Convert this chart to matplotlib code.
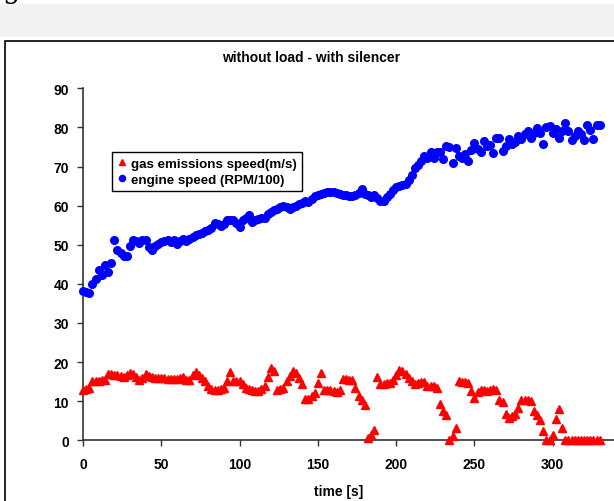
import matplotlib
matplotlib.use("Agg")
import matplotlib.pyplot as plt
import numpy as np
from matplotlib.patches import Rectangle

plt.rcParams['font.family'] = ['Liberation Sans', 'DejaVu Sans']

# sampling grid, one reading every 2 s
time_s = np.arange(0, 332, 2)

# engine speed (RPM/100)
engine_speed = [
    38.3, 38.0, 37.6, 40.0, 41.3, 43.6, 42.3, 44.8, 43.1, 45.3,
    51.3, 48.7, 47.8, 47.2, 47.2, 49.6, 51.1, 50.9, 50.5, 51.1,
    51.1, 49.5, 48.6, 49.8, 50.2, 50.7, 50.9, 51.1, 50.8, 51.1,
    50.3, 51.0, 51.5, 50.9, 51.4, 52.0, 52.4, 52.8, 53.1, 53.4,
    53.7, 54.3, 55.6, 55.2, 54.9, 55.4, 56.4, 56.3, 56.2, 55.5,
    54.5, 56.2, 56.8, 57.5, 55.8, 56.2, 56.6, 56.8, 56.9, 57.8,
    58.3, 58.8, 59.2, 59.6, 60.0, 59.6, 59.2, 59.6, 60.0, 60.5,
    60.8, 61.3, 61.0, 61.8, 62.4, 62.8, 63.0, 63.3, 63.5, 63.6,
    63.5, 63.2, 63.0, 62.8, 62.6, 62.5, 62.4, 62.6, 63.2, 64.3,
    63.0, 62.6, 62.2, 62.6, 62.0, 61.3, 61.3, 62.2, 63.0, 64.0,
    64.8, 65.1, 65.3, 65.6, 66.5, 67.9, 69.5, 70.3, 71.5, 72.8,
    72.1, 73.8, 72.1, 73.8, 73.6, 72.0, 75.2, 74.9, 70.9, 74.7,
    72.6, 72.2, 73.2, 71.5, 74.1, 76.0, 74.6, 73.7, 76.4, 75.2,
    75.5, 73.4, 77.3, 77.2, 74.0, 75.2, 77.1, 75.8, 76.2, 77.7,
    77.1, 78.2, 79.0, 77.3, 78.5, 79.9, 78.6, 75.8, 80.0, 80.3,
    78.6, 79.5, 77.3, 79.2, 81.1, 79.2, 76.9, 77.9, 79.2, 78.4,
    76.9, 80.5, 79.4, 77.1, 80.7, 80.5,
]

# gas emissions speed (m/s)
gas_speed = [
    12.9, 13.0, 13.5, 15.1, 15.2, 15.2, 15.4, 15.5, 16.9, 16.9,
    16.8, 16.8, 16.5, 16.3, 16.8, 17.2, 17.0, 16.3, 15.5, 16.0,
    16.9, 16.5, 16.1, 16.0, 16.0, 15.9, 15.9, 15.8, 15.7, 15.7,
    15.8, 16.0, 16.1, 15.5, 15.5, 16.8, 17.4, 16.8, 16.0, 15.1,
    13.8, 13.2, 12.8, 12.8, 13.0, 13.5, 15.1, 17.4, 15.2, 15.2,
    15.1, 14.3, 13.4, 13.0, 12.9, 12.7, 12.5, 13.0, 13.8, 16.3,
    18.6, 17.7, 12.9, 13.2, 13.4, 15.1, 16.5, 17.6, 17.2, 15.9,
    14.4, 10.6, 10.6, 11.2, 12.1, 14.6, 17.2, 12.9, 12.9, 12.9,
    12.5, 12.3, 12.9, 15.7, 15.6, 15.5, 15.5, 13.5, 11.2, 10.4,
    8.9, 0.6, 1.3, 2.6, 16.1, 14.4, 14.5, 14.6, 14.6, 15.5,
    16.8, 18.0, 17.6, 17.0, 15.9, 15.2, 14.4, 14.6, 14.9, 14.9,
    14.0, 14.0, 14.0, 13.5, 9.3, 7.4, 6.4, 0.2, 1.0, 3.1,
    15.2, 15.0, 14.8, 14.6, 12.7, 10.8, 12.3, 12.9, 12.8, 12.5,
    12.8, 13.1, 12.8, 10.4, 9.8, 6.7, 5.7, 6.2, 6.7, 8.2,
    10.4, 10.4, 10.4, 10.0, 7.4, 6.4, 5.3, 2.3, 0.2, 0.2,
    1.4, 5.5, 8.1, 3.1, 0.2, 0.0, 0.0, 0.0, 0.0, 0.0,
    0.0, 0.0, 0.0, 0.0, 0.0, 0.0,
]

W, H = 614, 502
fig = plt.figure(figsize=(W / 100, H / 100), dpi=100)

# page background: grey band and the chart frame
fig.patches.append(Rectangle((0, 1 - 38 / H), 1, 33 / H, transform=fig.transFigure,
                             facecolor='#f3f3f3', edgecolor='none', zorder=-10))
fig.patches.append(Rectangle((5 / W, -0.1), 1.2, 1 - 42 / H + 0.1, transform=fig.transFigure,
                             facecolor='white', edgecolor='black', linewidth=1.2, zorder=-10))
fig.text(3 / W, 1 + 10 / H, 'g', fontsize=20, family='DejaVu Serif', va='center', ha='left')

ax = fig.add_axes([83 / W, (H - 441.3) / H, 548 / W, 352 / H])
ax.set_zorder(2)
ax.set_facecolor('none')

ax.plot(time_s, gas_speed, linestyle='none', marker='^', color='#ff0000',
        markersize=5.8, label='gas emissions speed(m/s)', clip_on=False, zorder=3)
ax.plot(time_s, engine_speed, linestyle='none', marker='o', color='#0000ff',
        markersize=5.5, label='engine speed (RPM/100)', clip_on=False, zorder=3)

ax.set_xlim(0, 350)
ax.set_ylim(0, 90)
ax.set_xticks(range(0, 301, 50))
ax.set_yticks(range(0, 91, 10))
for s in ['top', 'right']:
    ax.spines[s].set_visible(False)
for s in ['left', 'bottom']:
    ax.spines[s].set_color('#333333')
    ax.spines[s].set_linewidth(1.2)
ax.tick_params(direction='out', length=4, width=1, color='#333333', labelsize=10)
ax.tick_params(axis='x', pad=8)
ax.tick_params(axis='y', pad=6)
for lab in ax.get_xticklabels() + ax.get_yticklabels():
    lab.set_fontweight('bold')

fig.text(311 / W, 1 - 58 / H, 'without load - with silencer', ha='center', va='center',
         fontsize=10, fontweight='bold')
fig.text(339 / W, 1 - 492 / H, 'time [s]', ha='center', va='center',
         fontsize=10, fontweight='bold')

leg = ax.legend(loc='upper left', bbox_to_anchor=(112 / W, 1 - 153 / H),
                bbox_transform=fig.transFigure, borderaxespad=0, fancybox=False,
                edgecolor='black', framealpha=1, handlelength=0.7, handletextpad=0.35,
                borderpad=0.4, labelspacing=0.3, markerscale=0.8,
                prop={'weight': 'bold', 'size': 9.6})
leg.get_frame().set_linewidth(1.0)

fig.savefig('out.png', dpi=100)
